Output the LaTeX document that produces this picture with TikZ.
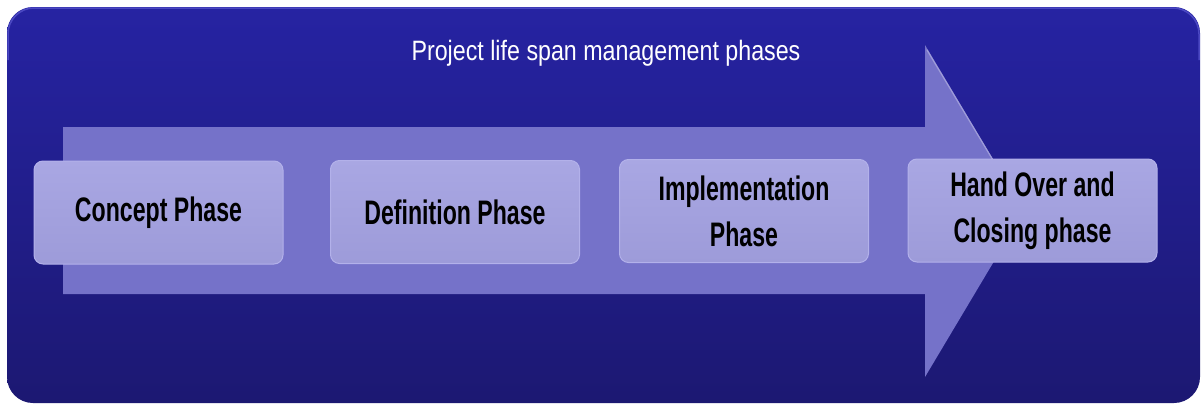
\documentclass[tikz,border=0pt]{standalone}
\usepackage{fontspec}
\setmainfont{Liberation Sans}
\newfontfamily\titlefont[FakeStretch=0.83]{Liberation Sans}
\newfontfamily\boxfont[FakeStretch=0.68]{Liberation Sans}
\definecolor{bgtop}{HTML}{2623A2}
\definecolor{bgbot}{HTML}{1C1872}
\definecolor{bgedge}{HTML}{4B48C2}
\definecolor{arrowcol}{HTML}{7572C9}
\definecolor{boxtop}{HTML}{A9A7E3}
\definecolor{boxbot}{HTML}{9D9BD9}
\definecolor{boxedge}{HTML}{B3B1EA}
\begin{document}
\begin{tikzpicture}[x=1pt,y=-1pt,
  phasebox/.style={draw=boxedge, line width=1pt, rounded corners=9pt,
    top color=boxtop, bottom color=boxbot,
    minimum width=249pt, minimum height=103pt, align=center,
    font=\boxfont\bfseries\fontsize{34}{46}\selectfont, text=black, inner sep=0pt},
  titletext/.style={font=\titlefont\fontsize{28}{34}\selectfont, text=white, inner sep=0pt}]
\useasboundingbox (0,0) rectangle (1203,407);
\fill[white] (0,0) rectangle (1203,407);
% background panel
\shade[top color=bgtop, bottom color=bgbot, rounded corners=26pt] (7,7) rectangle (1200,403);
\draw[bgedge, line width=1.5pt, rounded corners=26pt] (8,60) -- (8,8) -- (1199,8) -- (1199,60);
% arrow
\fill[arrowcol] (63,127) -- (925,127) -- (925,45) -- (1024,211) -- (925,377) -- (925,294) -- (63,294) -- cycle;
\draw[arrowcol!70!white, line width=1.2pt, line cap=round] (927,50) -- (1018,202);
% title
\node[titletext, anchor=base] (title) at (606,60) {Project life span management phases};
% phases
\node[phasebox] (p1) at (158.5,212.5) {Concept Phase};
\node[phasebox] (p2) at (455,212) {Definition Phase};
\node[phasebox] (p3) at (744,211) {Implementation\\Phase};
\node[phasebox] (p4) at (1032.5,210.5) {Hand Over and\\Closing phase};
\end{tikzpicture}
\end{document}
